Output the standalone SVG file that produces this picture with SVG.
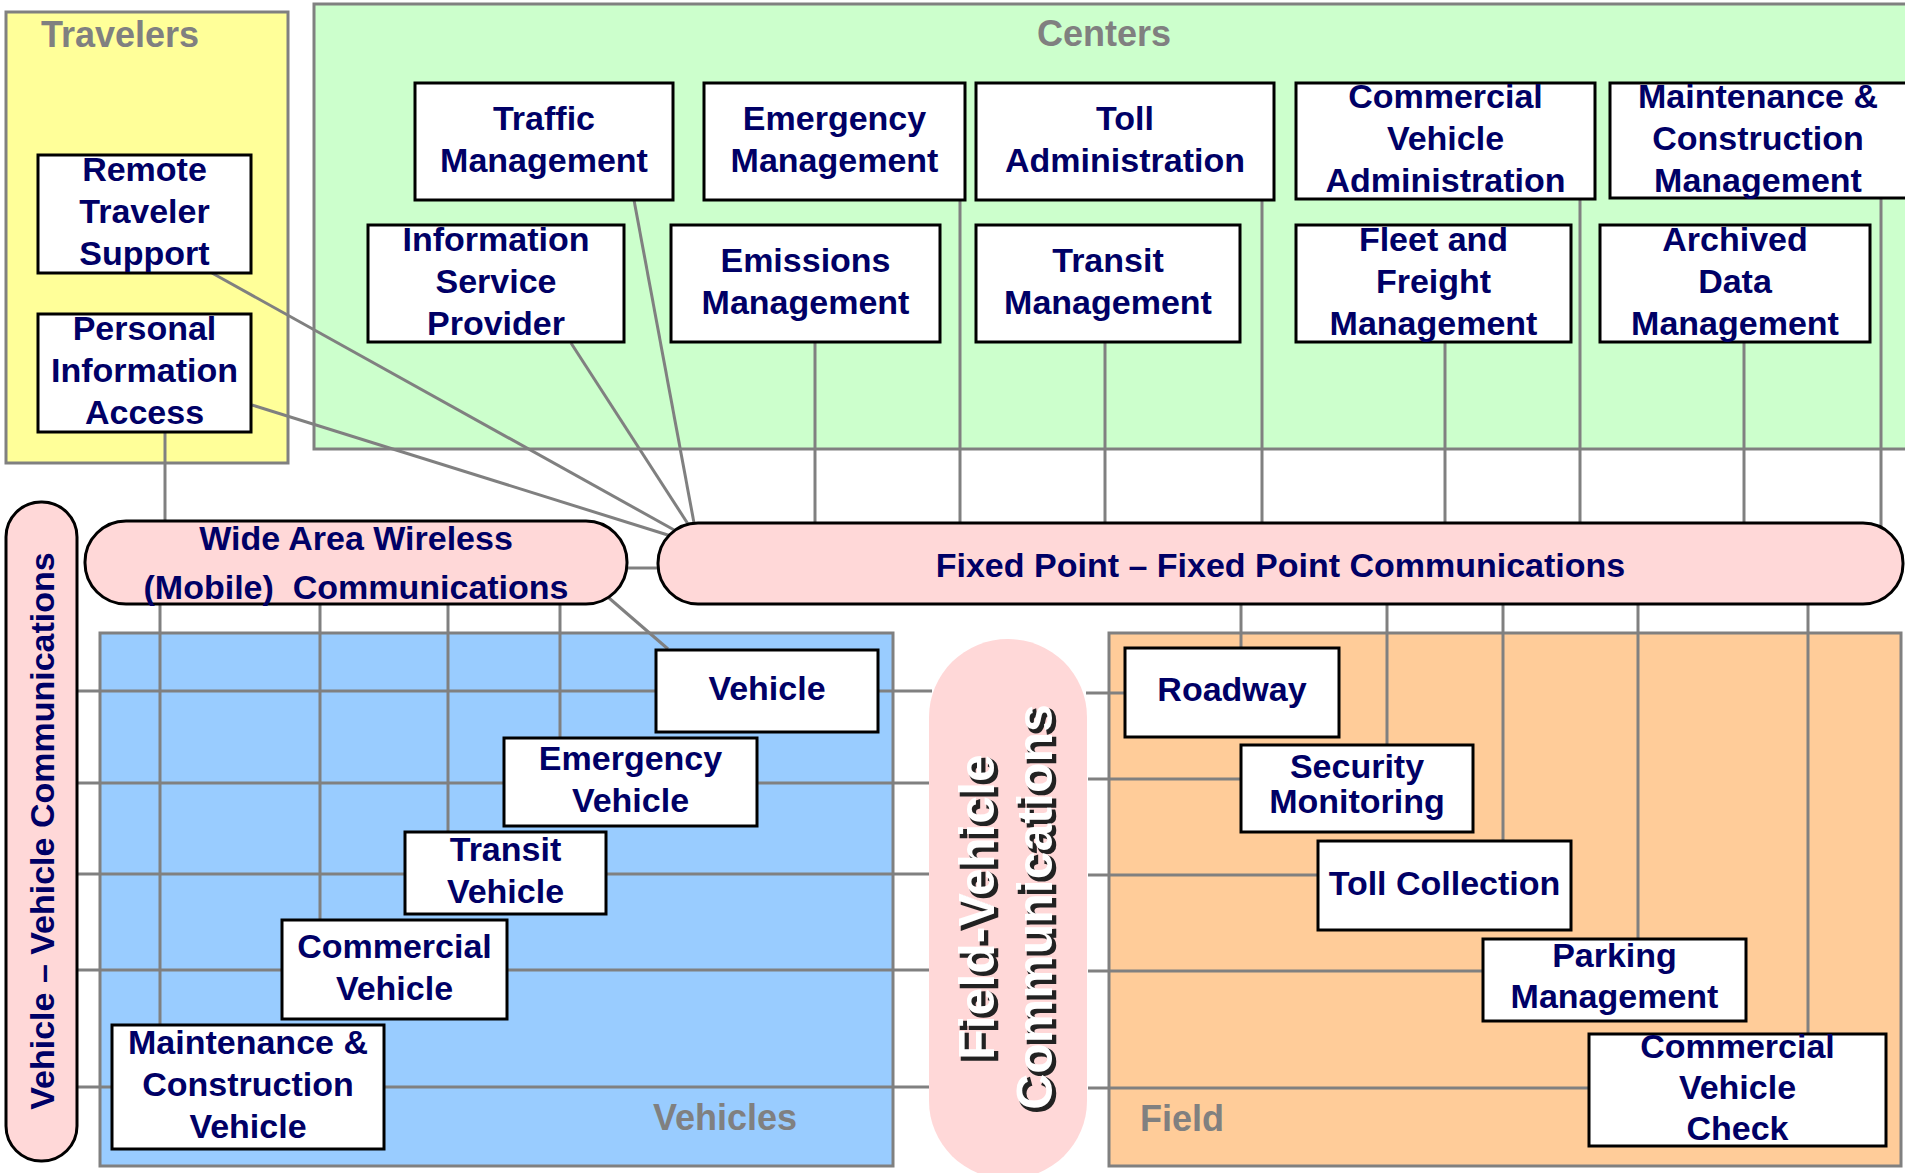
<svg xmlns="http://www.w3.org/2000/svg" width="1905" height="1173" viewBox="0 0 1905 1173">
<style>
.grp{stroke:#808080;stroke-width:3}
.lbl{font-family:"Liberation Sans",Arial,sans-serif;font-weight:bold;font-size:36px;fill:#808080}
.box{fill:#fff;stroke:#000;stroke-width:3}
.pill{fill:#FFD8D8;stroke:#000;stroke-width:3}
.t{font-family:"Liberation Sans",Arial,sans-serif;font-weight:bold;font-size:34px;fill:#000066;text-anchor:middle}
.c{stroke:#808080;stroke-width:3;fill:none}
.fv{font-family:"Liberation Sans",Arial,sans-serif;font-weight:bold;font-size:50px;text-anchor:middle}
.fvs{fill:#222;stroke:#222;stroke-width:2.5}
</style>
<rect width="1905" height="1173" fill="#fff"/>
<g id="containers">
<rect class="grp" x="6" y="12" width="282" height="451" fill="#FFFF99"/>
<rect class="grp" x="314" y="4" width="1600" height="445" fill="#CCFFCC"/>
<rect class="grp" x="100" y="633" width="793" height="533" fill="#99CCFF"/>
<rect class="grp" x="1109" y="633" width="792" height="533" fill="#FFCC99"/>
<text class="lbl" x="41" y="47">Travelers</text>
<text class="lbl" x="1037" y="46">Centers</text>
<text class="lbl" x="653" y="1130">Vehicles</text>
<text class="lbl" x="1140" y="1131">Field</text>
</g>
<g id="connectors">
<line class="c" x1="960" y1="200" x2="960" y2="524"/>
<line class="c" x1="815" y1="342" x2="815" y2="524"/>
<line class="c" x1="1105" y1="342" x2="1105" y2="524"/>
<line class="c" x1="1262" y1="200" x2="1262" y2="524"/>
<line class="c" x1="1445" y1="342" x2="1445" y2="524"/>
<line class="c" x1="1580" y1="199" x2="1580" y2="524"/>
<line class="c" x1="1744" y1="342" x2="1744" y2="524"/>
<line class="c" x1="1881" y1="199" x2="1881" y2="528"/>
<line class="c" x1="634" y1="200" x2="694" y2="523"/>
<line class="c" x1="571" y1="343" x2="688" y2="524"/>
<line class="c" x1="212" y1="273" x2="676" y2="531"/>
<line class="c" x1="252" y1="405" x2="671" y2="536"/>
<line class="c" x1="165" y1="432" x2="165" y2="522"/>
<line class="c" x1="627" y1="568" x2="658" y2="568"/>
<line class="c" x1="609" y1="598" x2="668" y2="649"/>
<line class="c" x1="160" y1="604" x2="160" y2="1025"/>
<line class="c" x1="320" y1="604" x2="320" y2="920"/>
<line class="c" x1="448" y1="604" x2="448" y2="832"/>
<line class="c" x1="560" y1="604" x2="560" y2="738"/>
<line class="c" x1="77" y1="691" x2="932" y2="691"/>
<line class="c" x1="77" y1="783" x2="929" y2="783"/>
<line class="c" x1="77" y1="874" x2="929" y2="874"/>
<line class="c" x1="77" y1="970" x2="929" y2="970"/>
<line class="c" x1="77" y1="1087" x2="929" y2="1087"/>
<line class="c" x1="1086" y1="693" x2="1125" y2="693"/>
<line class="c" x1="1088" y1="779" x2="1241" y2="779"/>
<line class="c" x1="1088" y1="875" x2="1318" y2="875"/>
<line class="c" x1="1088" y1="971" x2="1483" y2="971"/>
<line class="c" x1="1088" y1="1088" x2="1589" y2="1088"/>
<line class="c" x1="1241" y1="604" x2="1241" y2="648"/>
<line class="c" x1="1387" y1="604" x2="1387" y2="745"/>
<line class="c" x1="1503" y1="604" x2="1503" y2="841"/>
<line class="c" x1="1638" y1="604" x2="1638" y2="939"/>
<line class="c" x1="1808" y1="604" x2="1808" y2="1034"/>
</g>
<g id="n-remote-traveler-support"><rect class="box" x="38" y="155" width="213" height="118"/><text class="t" x="144.5" y="181">Remote</text><text class="t" x="144.5" y="223">Traveler</text><text class="t" x="144.5" y="265">Support</text></g>
<g id="n-personal-information-access"><rect class="box" x="38" y="314" width="213" height="118"/><text class="t" x="144.5" y="340">Personal</text><text class="t" x="144.5" y="382">Information</text><text class="t" x="144.5" y="424">Access</text></g>
<g id="n-traffic-management"><rect class="box" x="415" y="83" width="258" height="117"/><text class="t" x="544" y="129.5">Traffic</text><text class="t" x="544" y="171.5">Management</text></g>
<g id="n-emergency-management"><rect class="box" x="704" y="83" width="261" height="117"/><text class="t" x="834.5" y="129.5">Emergency</text><text class="t" x="834.5" y="171.5">Management</text></g>
<g id="n-toll-administration"><rect class="box" x="976" y="83" width="298" height="117"/><text class="t" x="1125" y="129.5">Toll</text><text class="t" x="1125" y="171.5">Administration</text></g>
<g id="n-commercial-vehicle-administration"><rect class="box" x="1296" y="83" width="299" height="116"/><text class="t" x="1445.5" y="108">Commercial</text><text class="t" x="1445.5" y="150">Vehicle</text><text class="t" x="1445.5" y="192">Administration</text></g>
<g id="n-maintenance-construction-management"><rect class="box" x="1610" y="83" width="300" height="115"/><text class="t" x="1758" y="108">Maintenance &amp;</text><text class="t" x="1758" y="150">Construction</text><text class="t" x="1758" y="192">Management</text></g>
<g id="n-information-service-provider"><rect class="box" x="368" y="225" width="256" height="117"/><text class="t" x="496" y="250.5">Information</text><text class="t" x="496" y="292.5">Service</text><text class="t" x="496" y="334.5">Provider</text></g>
<g id="n-emissions-management"><rect class="box" x="671" y="225" width="269" height="117"/><text class="t" x="805.5" y="271.5">Emissions</text><text class="t" x="805.5" y="313.5">Management</text></g>
<g id="n-transit-management"><rect class="box" x="976" y="225" width="264" height="117"/><text class="t" x="1108" y="271.5">Transit</text><text class="t" x="1108" y="313.5">Management</text></g>
<g id="n-fleet-freight-management"><rect class="box" x="1296" y="225" width="275" height="117"/><text class="t" x="1433.5" y="250.5">Fleet and</text><text class="t" x="1433.5" y="292.5">Freight</text><text class="t" x="1433.5" y="334.5">Management</text></g>
<g id="n-archived-data-management"><rect class="box" x="1600" y="225" width="270" height="117"/><text class="t" x="1735" y="250.5">Archived</text><text class="t" x="1735" y="292.5">Data</text><text class="t" x="1735" y="334.5">Management</text></g>
<g id="n-wide-area-wireless"><rect class="pill" x="85" y="521" width="542" height="83" rx="41" ry="41"/><text class="t" x="356" y="550" font-size="32">Wide Area Wireless</text><text class="t" x="356" y="599" xml:space="preserve">(Mobile)  Communications</text></g>
<g id="n-fixed-point"><rect class="pill" x="658" y="523" width="1245" height="81" rx="40" ry="40"/><text class="t" x="1280.5" y="577">Fixed Point – Fixed Point Communications</text></g>
<g id="n-vehicle-vehicle"><rect class="pill" x="6" y="502" width="71" height="659" rx="35" ry="35"/><text class="t" transform="translate(54 831) rotate(-90)" font-size="35">Vehicle – Vehicle Communications</text></g>
<g id="n-field-vehicle"><rect x="929" y="639" width="158" height="540" rx="79" ry="78" fill="#FFD8D8"/>
<text class="fv fvs" transform="translate(997 910) rotate(-90)">Field-Vehicle</text>
<text class="fv" transform="translate(994 907) rotate(-90)" fill="#fff">Field-Vehicle</text>
<text class="fv fvs" transform="translate(1055 910) rotate(-90)">Communications</text>
<text class="fv" transform="translate(1052 907) rotate(-90)" fill="#fff">Communications</text></g>
<g id="n-vehicle"><rect class="box" x="656" y="650" width="222" height="82"/><text class="t" x="767" y="700">Vehicle</text></g>
<g id="n-emergency-vehicle"><rect class="box" x="504" y="738" width="253" height="88"/><text class="t" x="630.5" y="770">Emergency</text><text class="t" x="630.5" y="812">Vehicle</text></g>
<g id="n-transit-vehicle"><rect class="box" x="405" y="832" width="201" height="82"/><text class="t" x="505.5" y="861">Transit</text><text class="t" x="505.5" y="903">Vehicle</text></g>
<g id="n-commercial-vehicle"><rect class="box" x="282" y="920" width="225" height="99"/><text class="t" x="394.5" y="957.5">Commercial</text><text class="t" x="394.5" y="999.5">Vehicle</text></g>
<g id="n-maintenance-construction-vehicle"><rect class="box" x="112" y="1025" width="272" height="124"/><text class="t" x="248" y="1054">Maintenance &amp;</text><text class="t" x="248" y="1096">Construction</text><text class="t" x="248" y="1138">Vehicle</text></g>
<g id="n-roadway"><rect class="box" x="1125" y="648" width="214" height="89"/><text class="t" x="1232" y="701">Roadway</text></g>
<g id="n-security-monitoring"><rect class="box" x="1241" y="745" width="232" height="87"/><text class="t" x="1357" y="778">Security</text><text class="t" x="1357" y="813">Monitoring</text></g>
<g id="n-toll-collection"><rect class="box" x="1318" y="841" width="253" height="89"/><text class="t" x="1444.5" y="894.5">Toll Collection</text></g>
<g id="n-parking-management"><rect class="box" x="1483" y="939" width="263" height="82"/><text class="t" x="1614.5" y="967">Parking</text><text class="t" x="1614.5" y="1008">Management</text></g>
<g id="n-commercial-vehicle-check"><rect class="box" x="1589" y="1034" width="297" height="112"/><text class="t" x="1737.5" y="1058">Commercial</text><text class="t" x="1737.5" y="1099">Vehicle</text><text class="t" x="1737.5" y="1140">Check</text></g>
</svg>
